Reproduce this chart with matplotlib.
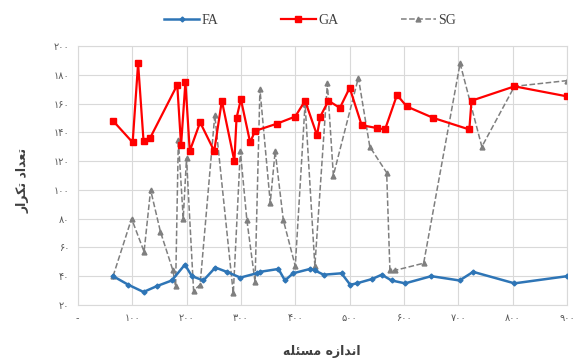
import matplotlib
matplotlib.use("Agg")
import matplotlib.pyplot as plt

plt.rcParams['font.family'] = ['DejaVu Sans']

# --- data ---
fa_x = [65, 93, 121, 145, 173, 197, 210, 231, 253, 274, 299, 329, 335, 369, 381, 396,
        427, 436, 452, 485, 501, 513, 541, 559, 577, 602, 650, 702, 727, 803, 900]
fa_y = [40, 34, 29, 33, 37, 48, 40, 37, 46, 43, 39, 42, 43, 45, 37, 42,
        45, 44, 41, 42, 34, 35, 38, 41, 37, 35, 40, 37, 43, 35, 40]

ga_x = [65, 101, 111, 121, 133, 183, 190, 198, 206, 225, 251, 265, 288, 292, 300, 317,
        326, 366, 400, 418, 440, 446, 461, 482, 500, 522, 550, 565, 587, 605, 654, 720,
        724, 803, 900]
ga_y = [148, 133, 188, 134, 136, 173, 131, 175, 127, 147, 127, 162, 120, 150, 163, 133,
        141, 146, 151, 162, 138, 151, 162, 157, 171, 145, 143, 142, 166, 158, 150, 142,
        162, 172, 165]

sg_x = [65, 99, 122, 134, 152, 175, 180, 185, 194, 200, 213, 225, 252, 286, 299, 311,
        326, 335, 354, 363, 378, 400, 418, 436, 459, 470, 516, 537, 568, 574, 583, 636,
        703, 743, 803, 900]
sg_y = [40, 80, 57, 100, 71, 44, 33, 135, 80, 122, 30, 34, 152, 28, 127, 79,
        36, 170, 91, 127, 79, 47, 160, 47, 174, 110, 178, 130, 112, 44, 44, 49,
        188, 130, 172, 176]

x_ticks = [0, 100, 200, 300, 400, 500, 600, 700, 800, 900]
y_ticks = [20, 40, 60, 80, 100, 120, 140, 160, 180, 200]

# persian digits
FA_DIGITS = str.maketrans("0123456789", "\u06f0\u06f1\u06f2\u06f3\u06f4\u06f5\u06f6\u06f7\u06f8\u06f9")


def fa_num(v):
    return "-" if v == 0 else str(v).translate(FA_DIGITS)


# pre-shaped (visual order) persian labels
y_label = "\ufead\ufe8d\ufeae\ufb91\ufe97 \ufea9\ufe8d\ufeaa\ufecc\ufe97"   # تعداد تکرار
x_label = "\ufeea\ufee0\ufe8c\ufeb4\ufee3 \ufee9\ufeaf\ufe8d\ufeaa\ufee7\ufe8d"  # اندازه مسئله

C_FA = "#2E75B6"
C_GA = "#FF0000"
C_SG = "#7F7F7F"
C_TXT = "#595959"
C_GRID = "#D9D9D9"

fig = plt.figure(figsize=(5.8, 3.6), dpi=100)
ax = fig.add_axes([0.134, 0.153, 0.844, 0.719])

ax.plot(sg_x, sg_y, color=C_SG, ls='--', lw=1.1, marker='^', ms=3.5,
        label='SG', zorder=2)
ax.plot(ga_x, ga_y, color=C_GA, lw=1.6, marker='s', ms=5,
        label='GA', zorder=3)
ax.plot(fa_x, fa_y, color=C_FA, lw=1.8, marker='D', ms=2.5,
        label='FA', zorder=4)

ax.set_xlim(0, 900)
ax.set_ylim(20, 200)
ax.set_xticks(x_ticks)
ax.set_yticks(y_ticks)
ax.set_xticklabels([fa_num(v) for v in x_ticks])
ax.set_yticklabels([fa_num(v) for v in y_ticks])
ax.tick_params(length=0, labelsize=7, colors=C_TXT, pad=6)
ax.grid(True, color=C_GRID, lw=0.8)
ax.set_axisbelow(True)
for s in ax.spines.values():
    s.set_color(C_GRID)
    s.set_linewidth(0.8)

fig.text(0.04, 0.5, y_label, rotation=90, ha='center', va='center',
         fontsize=9, fontweight='bold', color='#404040')
fig.text(0.555, 0.025, x_label, ha='center', va='center',
         fontsize=9, fontweight='bold', color='#404040')

handles, labels = ax.get_legend_handles_labels()
order = [2, 1, 0]
fig.legend([handles[i] for i in order], [labels[i] for i in order],
           loc='upper center', bbox_to_anchor=(0.535, 0.995), ncol=3,
           frameon=False, fontsize=9, columnspacing=4.5, handlelength=2.5,
           handletextpad=0.2, labelcolor='#404040',
           prop={'family': 'Liberation Serif', 'size': 10})

fig.savefig("out.png", dpi=100)
